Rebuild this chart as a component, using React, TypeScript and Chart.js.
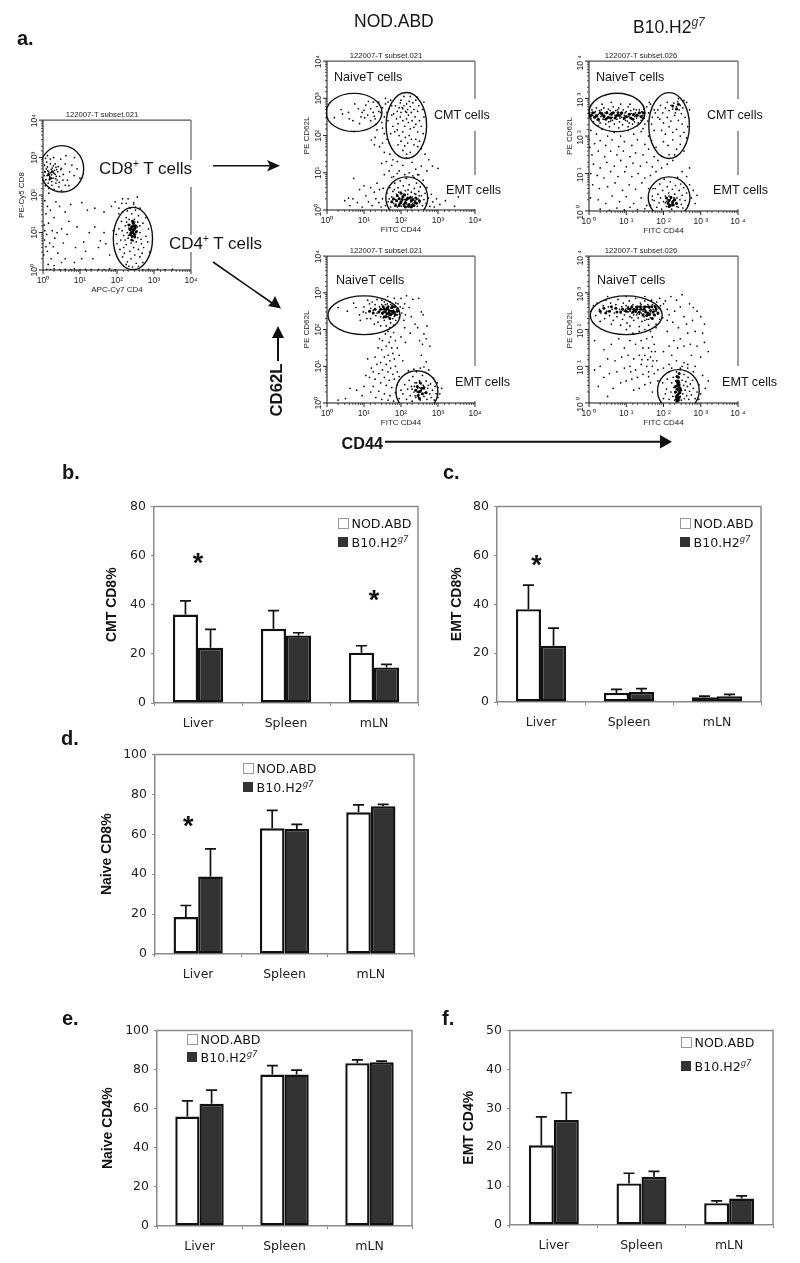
import React, { useEffect, useRef } from "react";
import { Chart, registerables } from "chart.js";

Chart.register(...registerables);

// ---------- bar chart data ----------
const tissues = ["Liver", "Spleen", "mLN"];
const cmtNod = [36, 30.2, 20.5];
const cmtNodHi = [41.6, 37.6, 23.3];
const cmtB10 = [22.5, 27.5, 14.5];
const cmtB10Hi = [30, 28.6, 15.7];
const emtCd8Nod = [38, 3.7, 1.9];
const emtCd8NodHi = [47.8, 5.2, 2.4];
const emtCd8B10 = [23, 4.1, 2.4];
const emtCd8B10Hi = [30.2, 5.5, 3.1];
const naiveCd8Nod = [18.5, 63, 71];
const naiveCd8NodHi = [24.3, 72, 74.7];
const naiveCd8B10 = [38.8, 62.7, 74];
const naiveCd8B10Hi = [52.7, 65, 75];
const naiveCd4Nod = [56, 77.5, 83.3];
const naiveCd4NodHi = [64, 82, 85];
const naiveCd4B10 = [62.5, 77.5, 83.7];
const naiveCd4B10Hi = [69.5, 79.7, 84.3];
const emtCd4Nod = [20.5, 10.7, 5.6];
const emtCd4NodHi = [27.8, 13.3, 6.2];
const emtCd4B10 = [27, 12.4, 6.8];
const emtCd4B10Hi = [34, 13.8, 7.5];

// ---------- flow cytometry events: x,y pairs in hundredths of a log10 decade ----------
const subsetEvents = [
5,262,12,275,18,250,22,268,8,241,30,258,35,274,14,232,27,245,40,262,10,288,20,296,33,283,45,250,6,225,16,218,24,236,38,240,50,271,55,255,60,283,48,296,72,262,66,240,78,280,84,252,92,270,60,226,43,222,30,215,35,232,19,259,26,262,13,265,31,266,23,254,17,241,28,278,9,270,36,250,41,276,3,252,4,280,7,298,12,305,29,300,54,240,70,225,100,245,85,300,62,305,38,210,50,212,16,205,24,226,21,245,34,244,37,268,11,252,15,262,25,272,33,255,20,283,6,262,44,234,2,238,48,268,
5,185,12,170,20,160,35,182,8,150,30,140,45,170,60,155,15,125,3,120,25,105,50,110,70,130,10,95,4,80,18,72,32,85,55,72,65,95,88,60,12,50,2,40,22,30,40,45,60,30,85,20,14,15,30,12,50,20,8,62,5,105,28,62,38,100,92,115,75,175,105,180,120,160,140,165,165,155,185,170,215,190,225,178,245,175,250,160,195,182,205,165,110,75,125,100,140,115,165,100,190,105,170,70,150,60,180,40,115,50,135,30,155,78,105,30,
10,2,20,1,30,3,45,1,60,2,75,1,85,3,100,1,115,2,130,1,150,2,165,1,180,3,195,1,270,1,285,2,310,2,330,1,350,2,
243,105,235,120,250,95,228,100,255,115,240,88,232,112,248,128,222,118,262,100,238,72,230,85,252,75,218,92,265,82,245,60,225,68,210,80,258,55,235,50,220,45,248,40,262,35,238,30,228,22,252,18,242,8,215,35,272,60,278,90,270,125,278,140,258,145,240,150,225,140,212,130,205,110,200,70,208,55,268,45,235,165,250,168,228,158,245,180,215,155,262,165,232,10,258,10,225,15,270,20,288,48,285,110,283,75,205,150,198,95,218,60,247,135,233,135,240,130,256,128,226,128,236,96,246,112,254,104,241,118,231,92,222,80,262,118,244,78,256,86,266,70,214,105,213,178,230,190,255,195,
];
const subsetCore = [243,105,240,115,247,95,238,100,249,112,244,125,235,108,252,102,241,90,246,118,243,100,238,110,246,108,250,118,236,95,242,130,240,80,248,88,232,120,15,255,25,262,20,245];

const nodCd8Events = [
42,258,58,262,70,240,85,272,92,250,100,268,105,282,110,255,118,272,125,262,130,245,88,232,60,245,75,285,112,292,125,290,135,278,140,265,102,248,95,262,128,252,20,248,38,270,118,240,132,230,
145,262,150,275,155,250,158,285,162,262,165,240,168,272,172,295,175,255,178,225,150,220,155,205,162,190,168,180,172,205,148,235,140,290,158,300,175,280,165,290,135,215,130,195,120,188,142,170,150,180,128,175,155,155,170,150,160,130,175,120,148,125,168,105,155,95,178,135,
185,280,190,265,195,275,198,288,200,262,205,272,208,280,212,265,215,285,218,270,220,255,222,292,225,278,228,262,232,288,235,270,238,250,240,295,245,265,248,280,188,245,192,232,198,250,205,240,210,225,215,245,220,235,225,218,230,240,235,222,240,230,245,210,250,240,255,225,258,270,260,205,262,250,190,215,195,200,200,185,205,210,212,195,218,180,222,200,228,190,235,175,240,190,245,170,250,185,255,165,205,160,215,150,225,155,192,175,210,172,200,295,208,305,225,305,243,303,262,290,180,258,183,210,215,262,203,275,
190,130,205,120,215,140,230,128,240,110,255,118,222,100,248,95,270,105,285,118,215,85,235,88,300,112,265,150,180,90,195,105,275,135,
150,30,158,12,162,45,165,22,170,60,172,8,175,35,178,50,180,18,183,72,185,28,188,42,190,8,192,60,195,15,196,32,198,78,200,48,202,22,204,38,206,65,208,10,210,28,212,52,214,85,216,16,218,42,220,30,222,68,224,8,226,22,228,48,230,35,232,92,234,14,236,58,238,25,240,42,242,72,244,10,246,30,248,50,250,20,252,62,255,38,258,12,260,80,262,28,265,45,268,18,270,60,274,32,278,10,282,42,286,22,290,8,296,30,305,15,320,25,335,55,345,10,355,35,210,95,190,98,175,88,245,95,178,28,186,16,194,48,201,10,207,42,213,24,219,54,225,36,231,18,237,44,243,28,249,38,182,55,168,30,
48,25,58,32,62,12,70,30,82,20,88,55,95,8,105,38,112,22,122,12,128,48,132,30,140,20,142,55,146,8,152,58,118,60,72,85,100,65,135,72,
];
const nodCd8Core = [195,30,200,22,205,35,222,15,228,25,218,32,235,12,212,20,190,38,198,18,203,28,208,15,215,28,225,32,230,12,238,20,195,12,188,25,210,40,232,28,242,18,180,30,250,25,220,10,200,45,185,12,240,32,175,22,212,8,228,8];

const b10Cd8Events = [
2,262,5,248,8,270,10,255,12,238,15,262,18,250,20,275,22,243,25,258,28,268,30,235,32,252,35,262,38,245,40,275,42,255,45,232,48,265,50,248,52,272,55,258,58,240,60,262,62,250,65,278,68,232,70,255,72,268,75,245,78,258,80,275,82,238,85,262,88,250,90,230,92,270,95,255,98,242,100,265,102,250,105,278,108,235,110,258,112,268,115,245,118,255,120,272,122,238,125,262,128,248,130,258,132,235,135,270,138,252,140,242,142,265,145,255,148,248,150,262,7,258,13,250,17,265,23,252,27,240,33,270,37,255,43,262,47,248,53,238,57,268,63,242,67,262,73,252,77,270,83,248,87,258,93,245,97,262,103,240,107,252,113,260,117,232,123,252,127,270,133,255,137,262,143,248,147,272,60,290,85,285,35,285,110,285,25,228,55,225,80,222,105,225,130,228,
155,278,160,262,165,285,170,250,175,270,158,240,168,232,178,262,185,250,162,290,150,232,145,220,
5,215,20,205,35,218,50,200,68,210,85,200,105,215,120,205,140,212,160,200,175,215,0,190,2,170,15,180,30,188,45,175,62,190,80,172,95,185,115,175,130,190,150,178,168,188,180,170,8,150,25,160,42,145,58,160,75,150,92,160,110,145,125,155,145,150,160,165,175,145,185,135,12,125,30,115,48,130,68,120,85,135,100,118,118,128,138,120,155,130,170,118,5,100,22,95,40,88,58,105,78,92,96,105,115,92,132,100,150,88,165,95,180,105,195,115,210,125,225,135,10,70,28,60,50,65,70,75,90,55,108,70,125,58,142,75,160,60,4,35,25,30,45,20,62,40,82,25,100,38,120,20,140,35,155,15,30,5,55,2,75,8,95,3,110,10,130,4,150,6,170,30,172,60,250,105,270,115,262,92,
185,270,192,282,198,262,205,275,210,290,215,268,220,282,225,272,228,288,232,262,235,278,238,292,242,270,245,282,248,260,252,275,255,295,262,290,190,245,200,235,210,250,220,240,230,255,240,242,250,232,258,250,265,225,195,215,205,205,215,225,225,210,235,218,245,200,255,210,262,195,200,185,212,175,225,190,235,165,245,178,255,160,215,150,230,150,240,300,270,270,
165,15,170,40,175,28,178,60,182,10,185,45,188,22,190,72,192,35,195,5,198,55,200,25,202,85,205,40,208,12,210,65,212,30,214,48,216,18,218,78,220,38,222,5,224,58,226,28,228,15,230,45,232,68,234,22,236,35,238,90,240,10,242,55,244,30,246,72,248,18,250,42,252,8,254,62,258,28,262,48,266,15,270,70,275,35,280,55,285,20,290,42,205,22,212,18,218,30,224,14,230,28,215,40,208,26,228,35,236,12,222,22,
];
const b10Cd8Core = [20,255,40,252,60,258,82,255,100,252,120,258,70,248,30,262,215,28,225,18,220,36,235,20,10,262,15,250,25,245,35,258,48,262,52,250,65,262,75,255,88,262,95,248,108,258,112,248,128,255,135,262,5,255,45,245,58,248,78,262,118,245,140,252,145,262,225,25,212,22,218,15,230,30,208,35,215,12,235,272,225,280,240,285];

const nodCd4Events = [
30,260,55,250,72,272,88,240,100,262,110,280,118,230,125,252,130,268,135,245,138,220,142,262,145,235,148,280,150,255,152,248,155,225,158,268,160,240,162,255,164,290,165,262,166,235,168,250,170,275,172,218,174,258,175,242,176,266,178,230,180,252,182,285,184,245,185,262,186,225,188,255,190,240,192,270,194,250,195,232,198,262,200,285,202,245,205,258,208,225,210,270,212,240,90,225,78,260,105,245,115,270,128,215,122,275,108,230,145,210,155,275,135,282,160,210,170,205,180,212,148,268,152,232,156,258,163,270,172,268,178,244,182,236,186,272,192,258,196,242,168,238,158,250,150,242,142,250,132,238,118,258,98,248,
215,292,222,260,228,235,232,282,238,215,245,205,255,248,260,240,270,210,248,285,262,188,268,175,250,170,225,190,258,160,210,205,268,112,255,130,278,155,
165,195,172,180,158,188,180,192,150,170,168,165,175,150,185,170,160,155,148,145,178,135,165,130,155,125,170,115,182,120,190,150,145,110,160,105,172,95,185,100,150,90,165,85,178,78,190,85,140,80,155,70,168,62,182,65,195,72,130,65,145,55,160,48,175,42,190,50,125,45,140,32,155,25,170,20,185,28,200,35,118,30,132,15,148,10,165,8,180,5,195,12,120,95,135,105,110,120,105,75,100,45,95,20,80,35,62,40,30,8,50,12,115,70,125,85,130,125,138,150,142,175,195,130,205,115,200,180,212,165,
205,25,210,50,215,10,218,38,222,62,225,20,228,45,230,5,232,72,235,30,238,55,240,15,242,85,245,40,248,22,250,60,252,8,255,35,258,75,260,48,262,18,265,28,268,60,270,10,272,40,275,90,278,25,280,52,282,15,285,35,288,68,290,8,292,45,295,25,298,55,300,15,230,38,238,20,244,30,250,42,256,25,262,38,248,14,254,52,236,45,242,55,268,30,274,48,252,95,262,98,235,92,220,88,300,42,305,25,310,40,
];
const nodCd4Core = [158,248,163,243,168,252,172,240,160,235,175,250,155,255,165,262,178,245,150,245,252,32,246,20,256,40,250,12,145,255,152,262,160,255,168,245,175,260,182,248,185,240,170,230,140,248,130,255,125,245,115,250,180,262,190,250,163,258,155,235,240,35,258,25,262,42,248,30,244,45,252,55,268,28];

const b10Cd4Events = [
5,250,12,265,18,238,22,272,28,255,32,245,38,265,42,230,45,280,48,250,52,262,55,238,58,272,62,255,65,225,68,245,72,268,75,235,78,282,82,255,85,245,88,262,90,228,92,272,95,240,98,255,100,265,102,218,105,248,108,278,110,235,112,258,115,245,118,268,120,225,122,252,125,285,128,240,130,262,132,232,135,255,138,272,140,245,142,222,145,262,148,235,150,278,152,252,155,240,158,268,160,228,162,258,165,245,168,280,170,232,172,255,175,265,178,238,180,250,182,275,185,242,188,258,190,228,192,265,195,248,198,232,200,270,30,222,60,215,85,212,110,210,135,208,160,212,180,215,50,290,100,290,150,290,190,285,205,278,210,255,215,240,210,225,95,250,105,262,115,232,125,248,135,242,145,250,155,262,165,232,175,250,185,262,155,228,145,238,125,262,140,268,170,268,160,245,150,225,130,245,120,240,110,250,
100,200,118,190,135,195,150,200,165,195,180,205,170,180,155,175,140,170,125,160,110,170,95,150,80,175,60,160,40,145,15,170,160,150,175,160,150,130,165,125,178,140,135,130,120,120,105,130,88,125,70,115,50,120,30,100,140,105,155,100,170,100,182,115,125,90,110,100,95,95,75,85,55,80,40,70,15,90,130,70,145,78,160,72,175,80,115,65,100,60,85,55,65,40,25,45,50,18,150,50,165,55,170,30,135,40,120,35,185,60,160,85,185,90,142,118,172,115,158,118,168,140,145,150,112,85,
220,290,235,280,250,295,270,270,280,260,245,262,230,250,210,195,225,220,240,205,255,235,262,215,278,225,290,250,300,235,310,215,305,190,285,195,265,190,245,175,228,170,215,155,200,140,222,130,238,150,255,155,272,160,290,155,310,165,320,140,300,125,275,130,255,110,235,115,215,105,200,95,245,95,265,105,285,100,
215,10,220,30,222,55,225,18,226,70,228,42,230,8,232,28,233,60,235,85,236,15,238,45,240,5,240,72,242,30,243,55,245,18,246,92,247,40,248,8,250,62,252,25,254,48,255,78,256,12,258,35,260,58,262,20,264,45,266,70,268,10,270,32,272,52,275,22,278,62,280,40,285,12,290,30,295,50,300,25,305,75,312,40,205,25,198,55,210,65,200,12,208,38,215,85,222,95,250,100,265,95,280,85,295,10,320,60,
];
const b10Cd4Core = [110,255,125,250,140,255,152,248,165,252,175,240,160,262,145,240,130,262,180,255,90,255,170,230,235,10,238,22,240,35,238,48,236,60,242,15,232,30,240,70,243,42,236,5,100,250,105,258,115,262,118,248,128,255,135,248,148,255,158,245,162,240,172,248,178,262,168,262,150,262,138,262,120,255,85,248,72,258,55,250,40,258,155,238,185,245,75,248,60,262,45,245,30,250,238,15,240,25,242,50,238,55,234,18,244,28,236,38,240,60,232,45,246,35,240,8,236,72,242,80];

// gates: centre x, centre y, radius x, radius y (log10 decades)
const subsetGates = [[0.51, 2.7, 0.59, 0.62], [2.43, 0.84, 0.53, 0.83]];
const nodCd8Gates = [[0.73, 2.62, 0.755, 0.513], [2.145, 2.27, 0.547, 0.886], [2.156, 0.33, 0.566, 0.56]];
const b10Cd8Gates = [[0.75, 2.63, 0.75, 0.513], [2.15, 2.28, 0.545, 0.88], [2.15, 0.36, 0.56, 0.55]];
const nodCd4Gates = [[1.0, 2.39, 0.975, 0.527], [2.43, 0.31, 0.566, 0.57]];
const b10Cd4Gates = [[1.0, 2.39, 0.965, 0.527], [2.4, 0.34, 0.56, 0.57]];

const decadeLabels = ["10\u2070", "10\u00B9", "10\u00B2", "10\u00B3", "10\u2074"];
const spacedDecadeLabels = ["10 \u2070", "10 \u00B9", "10 \u00B2", "10 \u00B3", "10 \u2074"];

const SANS = "'Liberation Sans', Arial, sans-serif";
const VERD = "'DejaVu Sans', Verdana, sans-serif";

const toPoints = (flat: number[]) => {
  const out: { x: number; y: number }[] = [];
  for (let i = 0; i + 1 < flat.length; i += 2) out.push({ x: 10 ** (flat[i] / 100), y: 10 ** (flat[i + 1] / 100) });
  return out;
};

const flowPanels = [
  { name: "122007-T subset.021", xt: "APC-Cy7 CD4", yt: "PE-Cy5 CD8", left: 13, w: 190, pad: 4.5, plot: { l: 43, t: 119, r: 191, b: 270 }, ev: subsetEvents, core: subsetCore, gates: subsetGates, labels: decadeLabels },
  { name: "122007-T subset.021", xt: "FITC CD44", yt: "PE CD62L", left: 297, w: 190, pad: 5, plot: { l: 327, t: 60, r: 475, b: 210 }, ev: nodCd8Events, core: nodCd8Core, gates: nodCd8Gates, labels: decadeLabels },
  { name: "122007-T subset.026", xt: "FITC CD44", yt: "PE CD62L", left: 544, w: 206, pad: 21, plot: { l: 589, t: 60, r: 738, b: 211 }, ev: b10Cd8Events, core: b10Cd8Core, gates: b10Cd8Gates, labels: spacedDecadeLabels },
  { name: "122007-T subset.021", xt: "FITC CD44", yt: "PE CD62L", left: 297, w: 190, pad: 5, plot: { l: 327, t: 255, r: 475, b: 403 }, ev: nodCd4Events, core: nodCd4Core, gates: nodCd4Gates, labels: decadeLabels },
  { name: "122007-T subset.026", xt: "FITC CD44", yt: "PE CD62L", left: 544, w: 206, pad: 21, plot: { l: 589, t: 255, r: 738, b: 403 }, ev: b10Cd4Events, core: b10Cd4Core, gates: b10Cd4Gates, labels: spacedDecadeLabels },
];

const barPanels = [
  { title: "CMT CD8%", titleX: 112, plot: { l: 154, t: 502, r: 418, b: 703 }, max: 80, step: 20, nod: cmtNod, nodHi: cmtNodHi, b10: cmtB10, b10Hi: cmtB10Hi, stars: [[0, 58], [2, 43]], lx: 338, ly: [518, 537] },
  { title: "EMT CD8%", titleX: 457, plot: { l: 497, t: 502, r: 761, b: 702 }, max: 80, step: 20, nod: emtCd8Nod, nodHi: emtCd8NodHi, b10: emtCd8B10, b10Hi: emtCd8B10Hi, stars: [[-0.05, 57]], lx: 680, ly: [518, 537] },
  { title: "Naive CD8%", titleX: 107, plot: { l: 155, t: 750, r: 414, b: 954 }, max: 100, step: 20, nod: naiveCd8Nod, nodHi: naiveCd8NodHi, b10: naiveCd8B10, b10Hi: naiveCd8B10Hi, stars: [[-0.116, 65.3]], lx: 243, ly: [763, 782] },
  { title: "Naive CD4%", titleX: 108, plot: { l: 157, t: 1026, r: 412, b: 1226 }, max: 100, step: 20, nod: naiveCd4Nod, nodHi: naiveCd4NodHi, b10: naiveCd4B10, b10Hi: naiveCd4B10Hi, stars: [], lx: 187, ly: [1034, 1052] },
  { title: "EMT CD4%", titleX: 469, plot: { l: 510, t: 1026, r: 773, b: 1225 }, max: 50, step: 10, nod: emtCd4Nod, nodHi: emtCd4NodHi, b10: emtCd4B10, b10Hi: emtCd4B10Hi, stars: [], lx: 681, ly: [1037, 1061] },
];

function FlowChart({ p }: { p: any }) {
  const ref = useRef<HTMLCanvasElement>(null);
  const H = p.plot.b - p.plot.t + 9 + 24;
  useEffect(() => {
    const overlay = {
      id: "flowOverlay",
      afterDatasetsDraw(chart: any) {
        const { ctx, chartArea: a, scales } = chart;
        const X = scales.x, Y = scales.y;
        ctx.save();
        ctx.beginPath();
        ctx.rect(a.left - 1, a.top, a.right - a.left + 1, a.bottom - a.top);
        ctx.clip();
        ctx.strokeStyle = "#111";
        ctx.lineWidth = 1.4;
        for (const [cx, cy, rx, ry] of p.gates) {
          const px = X.getPixelForValue(10 ** cx), py = Y.getPixelForValue(10 ** cy);
          const prx = Math.abs(X.getPixelForValue(10 ** (cx + rx)) - px);
          const pry = Math.abs(Y.getPixelForValue(10 ** (cy + ry)) - py);
          ctx.beginPath();
          ctx.ellipse(px, py, prx, pry, 0, 0, Math.PI * 2);
          ctx.stroke();
        }
        ctx.restore();
        ctx.save();
        const seg = (c: string, w: number, x1: number, y1: number, x2: number, y2: number) => {
          ctx.strokeStyle = c; ctx.lineWidth = w;
          ctx.beginPath(); ctx.moveTo(x1, y1); ctx.lineTo(x2, y2); ctx.stroke();
        };
        seg("#555", 1.4, a.left, a.top, a.right, a.top);
        seg("#777", 1.4, a.right, a.top, a.right, a.bottom);
        seg("#111", 1, a.left, a.top, a.left, a.bottom);
        seg("#111", 1, a.left, a.bottom, a.right, a.bottom);
        for (const t of X.ticks) {
          const major = Number.isInteger(Math.round(Math.log10(t.value) * 1000) / 1000);
          const x = X.getPixelForValue(t.value);
          seg("#222", major ? 1 : 0.8, x, a.bottom, x, a.bottom + (major ? 4 : 2));
        }
        for (const t of Y.ticks) {
          const major = Number.isInteger(Math.round(Math.log10(t.value) * 1000) / 1000);
          const y = Y.getPixelForValue(t.value);
          seg("#222", major ? 1 : 0.8, a.left - (major ? 4 : 2), y, a.left, y);
        }
        ctx.restore();
      },
    };
    const labelFor = (v: number) => {
      const l = Math.log10(v);
      return Math.abs(l - Math.round(l)) < 1e-6 ? p.labels[Math.round(l)] : "";
    };
    const axisTitle = (text: string, padding: any) => ({
      display: true, text, color: "#222", padding,
      font: { family: SANS, size: 8, lineHeight: "9px" },
    });
    const chart = new Chart(ref.current as HTMLCanvasElement, {
      type: "scatter",
      data: {
        datasets: [
          { label: "Events", data: toPoints(p.ev), backgroundColor: "#000", pointRadius: 0.85, borderWidth: 0, pointBorderWidth: 0 },
          { label: "Dense events", data: toPoints(p.core), backgroundColor: "#000", pointRadius: 1.5, borderWidth: 0, pointBorderWidth: 0 },
        ],
      } as any,
      plugins: [overlay],
      options: {
        animation: false,
        responsive: false,
        layout: { autoPadding: false, padding: { top: 0, right: p.w - (p.plot.r - p.left), left: 0, bottom: 0 } },
        plugins: {
          legend: { display: false },
          tooltip: { enabled: false },
          title: { display: true, text: p.name, color: "#222", padding: { top: 0, bottom: 1 }, font: { family: SANS, size: 7.7, weight: "normal", lineHeight: "8px" } },
        },
        scales: {
          x: {
            type: "logarithmic", min: 1, max: 10000,
            afterFit: (s: any) => { s.height = 24; },
            grid: { display: false, drawTicks: true, tickLength: 3 },
            border: { display: false },
            title: axisTitle(p.xt, { top: 0, bottom: 0 }),
            ticks: { autoSkip: false, maxRotation: 0, minRotation: 0, padding: 3, color: "#222", font: { family: SANS, size: 8.5 }, callback: labelFor },
          },
          y: {
            type: "logarithmic", min: 1, max: 10000,
            afterFit: (s: any) => { s.width = p.plot.l - p.left; },
            grid: { display: false, drawTicks: true, tickLength: 3 },
            border: { display: false },
            title: axisTitle(p.yt, { top: p.pad, bottom: 0 }),
            ticks: { autoSkip: false, minRotation: 90, maxRotation: 90, padding: 5, labelOffset: -6, color: "#222", font: { family: SANS, size: 8.5 }, callback: labelFor },
          },
        },
      } as any,
    });
    return () => chart.destroy();
  }, []);
  return <canvas ref={ref} width={p.w} height={H} style={{ position: "absolute", left: p.left, top: p.plot.t - 9 }} />;
}

function BarChart({ p }: { p: any }) {
  const ref = useRef<HTMLCanvasElement>(null);
  const left = Math.round(p.titleX - 8.4);
  const W = p.plot.r + 10 - left;
  const H = p.plot.b - p.plot.t + 8 + 32;
  useEffect(() => {
    const overlay = {
      id: "barOverlay",
      afterDatasetsDraw(chart: any) {
        const { ctx, chartArea: a, scales } = chart;
        ctx.save();
        // error bars
        [p.nodHi, p.b10Hi].forEach((hi: number[], d: number) => {
          const meta = chart.getDatasetMeta(d);
          meta.data.forEach((bar: any, i: number) => {
            const yTop = scales.y.getPixelForValue(hi[i]);
            ctx.strokeStyle = "#111";
            ctx.lineWidth = 1.7;
            ctx.beginPath();
            ctx.moveTo(bar.x, bar.y); ctx.lineTo(bar.x, yTop);
            ctx.moveTo(bar.x - 5.5, yTop); ctx.lineTo(bar.x + 5.5, yTop);
            ctx.stroke();
          });
        });
        // plot frame
        ctx.strokeStyle = "#8a8a8a";
        ctx.lineWidth = 1.5;
        ctx.beginPath();
        ctx.moveTo(a.left, a.top); ctx.lineTo(a.right, a.top); ctx.lineTo(a.right, a.bottom);
        ctx.stroke();
        // significance stars
        ctx.fillStyle = "#111";
        ctx.font = `bold 27px ${SANS}`;
        ctx.textAlign = "center";
        ctx.textBaseline = "middle";
        for (const [cat, val] of p.stars) {
          ctx.fillText("*", scales.x.getPixelForValue(cat), scales.y.getPixelForValue(val) + 4);
        }
        ctx.restore();
      },
    };
    const chart = new Chart(ref.current as HTMLCanvasElement, {
      type: "bar",
      data: {
        labels: tissues,
        datasets: [
          { label: "NOD.ABD", data: p.nod, backgroundColor: "#fff", borderColor: "#111", borderWidth: 2.4, borderSkipped: false, barPercentage: 1, categoryPercentage: 0.57 },
          { label: "B10.H2g7", data: p.b10, backgroundColor: "#333", borderColor: "#111", borderWidth: 2.4, borderSkipped: false, barPercentage: 1, categoryPercentage: 0.57 },
        ],
      },
      plugins: [overlay],
      options: {
        animation: false,
        responsive: false,
        layout: { autoPadding: false, padding: { top: 8, right: 10, left: 0, bottom: 0 } },
        plugins: { legend: { display: false }, tooltip: { enabled: false } },
        scales: {
          x: {
            afterFit: (s: any) => { s.height = 32; },
            grid: { drawOnChartArea: false, tickLength: 3, color: "#8a8a8a" },
            border: { color: "#8a8a8a", width: 1.5 },
            ticks: { padding: 10, color: "#222", maxRotation: 0, font: { family: VERD, size: 12.5 } },
          },
          y: {
            min: 0, max: p.max,
            afterFit: (s: any) => { s.width = p.plot.l - left; },
            grid: { drawOnChartArea: false, tickLength: 3, color: "#8a8a8a" },
            border: { color: "#8a8a8a", width: 1.5 },
            title: { display: true, text: p.title, color: "#111", padding: 0, font: { family: SANS, size: 14, weight: "bold", lineHeight: 1.2 } },
            ticks: { stepSize: p.step, padding: 5, color: "#222", font: { family: VERD, size: 12.5 } },
          },
        },
      } as any,
    });
    return () => chart.destroy();
  }, []);
  return <canvas ref={ref} width={W} height={H} style={{ position: "absolute", left, top: p.plot.t - 8 }} />;
}

const T = ({ x, y, size, bold, family, rotate, children }: any) => (
  <div style={{ position: "absolute", left: x, top: y, transform: rotate ? "translate(-50%,-50%) rotate(-90deg)" : "translateY(-50%)", fontFamily: family || SANS, fontSize: size, fontWeight: bold ? 700 : 400, color: "#151515", whiteSpace: "nowrap", lineHeight: 1.2 }}>
    {children}
  </div>
);
const G7 = ({ size }: any) => (
  <span style={{ fontSize: size, fontStyle: "italic", verticalAlign: "super", lineHeight: 0, color: "#333" }}>g7</span>
);
const Plus = () => <span style={{ fontSize: 10, verticalAlign: "super", lineHeight: 0 }}>+</span>;
const Cover = ({ x, y1, y2 }: any) => <div style={{ position: "absolute", left: x - 3, width: 6, top: y1, height: y2 - y1, background: "#fff" }} />;

const Legend = ({ p }: any) => (
  <>
    <div style={{ position: "absolute", left: p.lx, top: p.ly[0], width: 9, height: 9, background: "#fff", border: "1px solid #999" }} />
    <T x={p.lx + 13.5} y={p.ly[0] + 6} size={12.6} family={VERD}>NOD.ABD</T>
    <div style={{ position: "absolute", left: p.lx, top: p.ly[1], width: 10, height: 10, background: "#333" }} />
    <T x={p.lx + 13.5} y={p.ly[1] + 6} size={12.6} family={VERD}>B10.H2<G7 size={8.5} /></T>
  </>
);

export default function App() {
  return (
    <div style={{ position: "absolute", left: 0, top: 0, width: 800, height: 1263, background: "#fff", overflow: "hidden" }}>
      {flowPanels.map((p, i) => <FlowChart key={i} p={p} />)}
      {barPanels.map((p, i) => <BarChart key={i} p={p} />)}

      <Cover x={191} y1={160} y2={187} />
      <Cover x={191} y1={235} y2={252} />
      <Cover x={475} y1={99} y2={131} />
      <Cover x={475} y1={175} y2={209} />
      <Cover x={738} y1={99} y2={131} />
      <Cover x={738} y1={175} y2={209} />
      <Cover x={475} y1={366} y2={401} />
      <Cover x={738} y1={366} y2={401} />

      <svg width={800} height={1263} style={{ position: "absolute", left: 0, top: 0 }}>
        <g stroke="#111" fill="#111">
          <line x1={213} y1={165.7} x2={270} y2={165.7} strokeWidth={1.6} />
          <polygon points="280,165.7 267,160 270,165.7 267,171.5" stroke="none" />
          <line x1={213} y1={262} x2={272} y2={303} strokeWidth={1.6} />
          <polygon points="281,308.5 268,306 272,302 275,296" stroke="none" />
          <line x1={278} y1={361} x2={278} y2={335} strokeWidth={2} />
          <polygon points="278,326 272,338 284,338" stroke="none" />
          <line x1={385} y1={441.7} x2={662} y2={441.7} strokeWidth={2} />
          <polygon points="672,441.7 660,435 660,448.5" stroke="none" />
        </g>
      </svg>

      <T x={17} y={38} size={20} bold>a.</T>
      <T x={62} y={472} size={20} bold>b.</T>
      <T x={443} y={472} size={20} bold>c.</T>
      <T x={61} y={738} size={20} bold>d.</T>
      <T x={62} y={1018} size={20} bold>e.</T>
      <T x={442} y={1018} size={20} bold>f.</T>

      <T x={354} y={21} size={17.5}>NOD.ABD</T>
      <T x={633} y={27} size={17.5}>B10.H2<G7 size={12} /></T>

      <T x={99} y={169} size={17}>CD8<Plus /> T cells</T>
      <T x={169} y={244} size={17}>CD4<Plus /> T cells</T>

      <T x={334} y={78} size={12.6}>NaiveT cells</T>
      <T x={434} y={116} size={12.6}>CMT cells</T>
      <T x={446} y={191} size={12.6}>EMT cells</T>
      <T x={596} y={78} size={12.6}>NaiveT cells</T>
      <T x={707} y={116} size={12.6}>CMT cells</T>
      <T x={713} y={191} size={12.6}>EMT cells</T>
      <T x={336} y={281} size={12.6}>NaiveT cells</T>
      <T x={455} y={383} size={12.6}>EMT cells</T>
      <T x={597} y={281} size={12.6}>NaiveT cells</T>
      <T x={722} y={383} size={12.6}>EMT cells</T>

      <T x={277} y={389.5} size={16.7} bold rotate>CD62L</T>
      <T x={341.5} y={444} size={16.2} bold>CD44</T>

      {barPanels.map((p, i) => <Legend key={i} p={p} />)}
    </div>
  );
}
